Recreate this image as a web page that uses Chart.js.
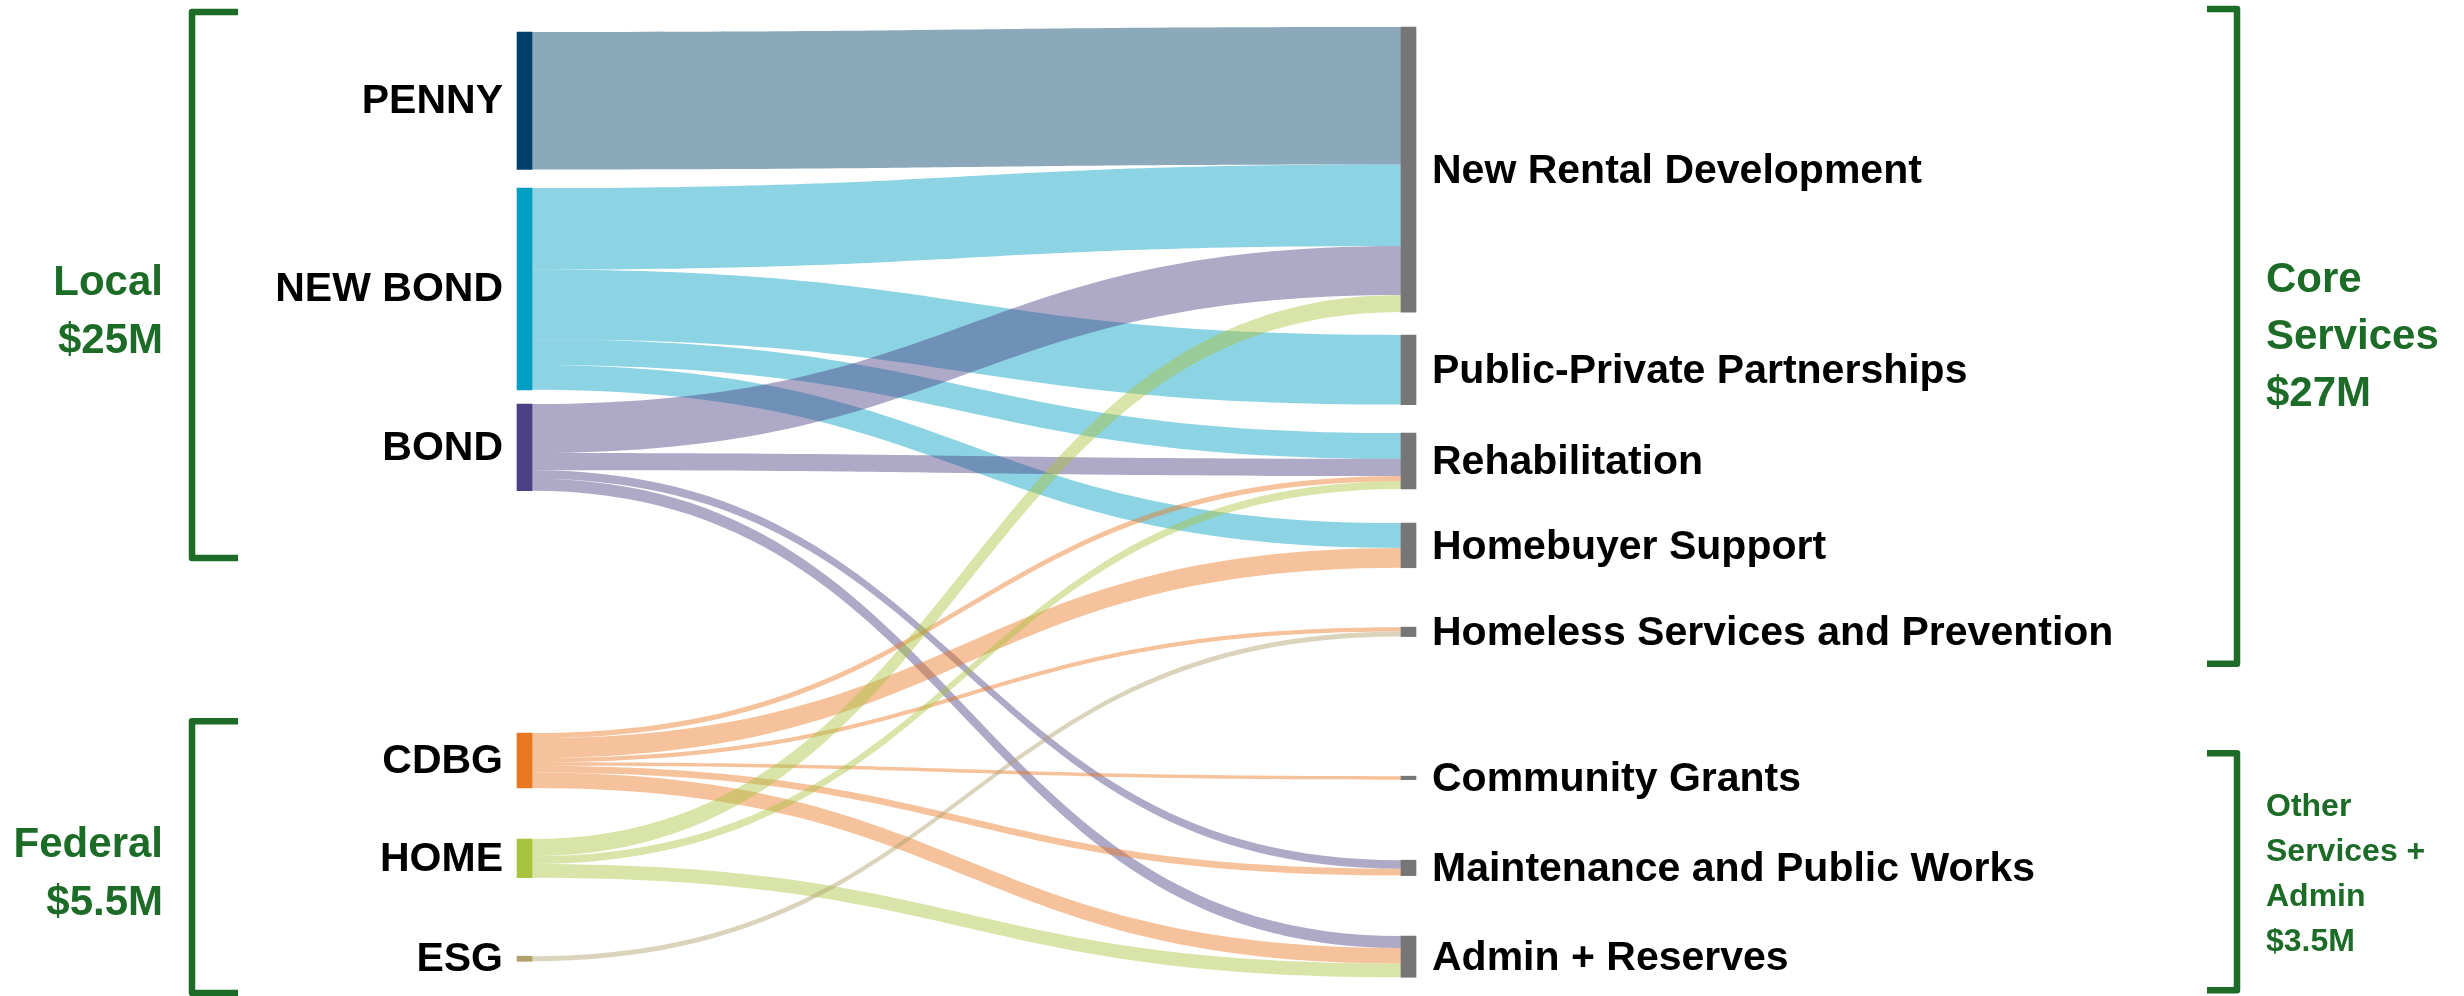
<!DOCTYPE html>
<html>
<head>
<meta charset="utf-8">
<script src="https://cdn.jsdelivr.net/npm/chart.js@4.4.1/dist/chart.umd.min.js"></script>
<style>
  html, body { margin: 0; padding: 0; background: #ffffff; }
  #wrap { width: 2464px; height: 996px; position: relative; }
</style>
</head>
<body>
<div id="wrap"><canvas id="c" width="2464" height="996"></canvas></div>
<script>
// ---------------- DATA ($ millions) ----------------
const sourceNames = ['PENNY', 'NEW BOND', 'BOND', 'CDBG', 'HOME', 'ESG'];
const targetNames = [
  'New Rental Development',
  'Public-Private Partnerships',
  'Rehabilitation',
  'Homebuyer Support',
  'Homeless Services and Prevention',
  'Community Grants',
  'Maintenance and Public Works',
  'Admin + Reserves'
];
// flows: source index -> target index, value in $M
const flowFrom  = [0,   1,    1,    1,   1,    2,    2,   2,   2,   3,   3,    3,    3,   3,   3,   4,   4,    4,   5];
const flowTo    = [0,   0,    1,    2,   3,    0,    2,   6,   7,   2,   3,    4,    5,   6,   7,   0,   2,    7,   4];
const flowValue = [8.0, 4.75, 4.05, 1.5, 1.45, 2.85, 1.0, 0.5, 0.7, 0.3, 1.15, 0.25, 0.2, 0.4, 0.9, 1.0, 0.45, 0.8, 0.3];

// group annotations
const leftGroupText  = [['Local', '$25M'], ['Federal', '$5.5M']];
const rightGroupText = [['Core', 'Services', '$27M'], ['Other', 'Services +', 'Admin', '$3.5M']];

// ---------------- LAYOUT / STYLE ----------------
const layout = {
  yMax: 58,                                   // value units ($M) spanning the canvas height
  srcTop: [1.864, 10.95, 23.53, 42.69, 48.86, 55.68],   // node tops in value units
  tgtTop: [1.573, 19.51, 25.22, 30.46, 36.52, 45.20, 50.09, 54.51],
  colLeftPx: 524.5, colRightPx: 1408.5, nodeW: 15,
  leftBrackets:  [{ y0: 0.70, y1: 32.50, mid: 18.17 }, { y0: 42.0, y1: 57.83, mid: 50.90 }],
  rightBrackets: [{ y0: 0.52, y1: 38.65, mid: 19.62 }, { y0: 43.86, y1: 57.66, mid: 50.95 }]
};
const srcColors = ['#00406a', '#009ec2', '#4b4083', '#e87722', '#a8c43e', '#b0a06a'];
const tgtColor = '#767676';
const green = '#1c6b27';
const flowAlpha = 0.45;

function hexToRgba(hex, a) {
  const n = parseInt(hex.slice(1), 16);
  return `rgba(${(n >> 16) & 255},${(n >> 8) & 255},${n & 255},${a})`;
}

// totals
const srcTotal = sourceNames.map((_, i) => flowValue.reduce((s, v, k) => s + (flowFrom[k] === i ? v : 0), 0));
const tgtTotal = targetNames.map((_, j) => flowValue.reduce((s, v, k) => s + (flowTo[k] === j ? v : 0), 0));

// offsets of every flow within its source and target node
const idx = flowValue.map((_, k) => k);
const flowSrcStart = new Array(flowValue.length);
const flowTgtStart = new Array(flowValue.length);
(function () {
  const so = layout.srcTop.slice();
  idx.slice().sort((a, b) => flowFrom[a] - flowFrom[b] || flowTo[a] - flowTo[b]).forEach(k => {
    flowSrcStart[k] = so[flowFrom[k]]; so[flowFrom[k]] += flowValue[k];
  });
  const to = layout.tgtTop.slice();
  idx.slice().sort((a, b) => flowTo[a] - flowTo[b] || flowFrom[a] - flowFrom[b]).forEach(k => {
    flowTgtStart[k] = to[flowTo[k]]; to[flowTo[k]] += flowValue[k];
  });
})();

const W = 2464;
const span = (layout.colRightPx - layout.colLeftPx);
const xMin = -layout.colLeftPx / span;
const xMax = xMin + W / span;

const sankeyPlugin = {
  id: 'sankeyFlows',
  beforeDatasetsDraw(chart) {
    const ctx = chart.ctx, xs = chart.scales.x, ys = chart.scales.y;
    const x0 = xs.getPixelForValue(0) + layout.nodeW / 2;
    const x1 = xs.getPixelForValue(1) - layout.nodeW / 2;
    const xm = (x0 + x1) / 2;
    ctx.save();
    for (let k = 0; k < flowValue.length; k++) {
      const sA = ys.getPixelForValue(flowSrcStart[k]);
      const sB = ys.getPixelForValue(flowSrcStart[k] + flowValue[k]);
      const tA = ys.getPixelForValue(flowTgtStart[k]);
      const tB = ys.getPixelForValue(flowTgtStart[k] + flowValue[k]);
      ctx.beginPath();
      ctx.moveTo(x0, sA);
      ctx.bezierCurveTo(xm, sA, xm, tA, x1, tA);
      ctx.lineTo(x1, tB);
      ctx.bezierCurveTo(xm, tB, xm, sB, x0, sB);
      ctx.closePath();
      ctx.fillStyle = hexToRgba(srcColors[flowFrom[k]], flowAlpha);
      ctx.fill();
    }
    ctx.restore();
  },
  afterDraw(chart) {
    const ctx = chart.ctx, xs = chart.scales.x, ys = chart.scales.y;
    ctx.save();
    // node labels
    ctx.fillStyle = '#000000';
    ctx.textBaseline = 'middle';
    ctx.font = 'bold 41px "Liberation Sans", Arial, sans-serif';
    ctx.textAlign = 'right';
    const lx = xs.getPixelForValue(0) - layout.nodeW / 2 - 14;
    sourceNames.forEach((n, i) => {
      ctx.fillText(n, lx, ys.getPixelForValue(layout.srcTop[i] + srcTotal[i] / 2) + 1);
    });
    ctx.font = 'bold 41px "Liberation Sans", Arial, sans-serif';
    ctx.textAlign = 'left';
    const rx = xs.getPixelForValue(1) + layout.nodeW / 2 + 16;
    targetNames.forEach((n, j) => {
      ctx.fillText(n, rx, ys.getPixelForValue(layout.tgtTop[j] + tgtTotal[j] / 2) + 2);
    });

    // brackets
    ctx.strokeStyle = green;
    ctx.lineWidth = 6.5;
    ctx.lineJoin = 'round';
    ctx.lineCap = 'butt';
    layout.leftBrackets.forEach(b => {
      const y0 = ys.getPixelForValue(b.y0), y1 = ys.getPixelForValue(b.y1);
      ctx.beginPath();
      ctx.moveTo(238, y0); ctx.lineTo(192, y0); ctx.lineTo(192, y1); ctx.lineTo(238, y1);
      ctx.stroke();
    });
    layout.rightBrackets.forEach(b => {
      const y0 = ys.getPixelForValue(b.y0), y1 = ys.getPixelForValue(b.y1);
      ctx.beginPath();
      ctx.moveTo(2207, y0); ctx.lineTo(2237, y0); ctx.lineTo(2237, y1); ctx.lineTo(2207, y1);
      ctx.stroke();
    });

    // group texts
    ctx.fillStyle = green;
    ctx.font = 'bold 42px "Liberation Sans", Arial, sans-serif';
    ctx.textAlign = 'right';
    leftGroupText.forEach((lines, g) => {
      const c = ys.getPixelForValue(layout.leftBrackets[g].mid);
      const lh = 58;
      lines.forEach((t, i) => ctx.fillText(t, 163, c + (i - (lines.length - 1) / 2) * lh));
    });
    ctx.textAlign = 'left';
    rightGroupText.forEach((lines, g) => {
      const small = g === 1;
      ctx.font = small ? 'bold 32px "Liberation Sans", Arial, sans-serif' : 'bold 42px "Liberation Sans", Arial, sans-serif';
      const lh = small ? 45 : 57;
      const c = ys.getPixelForValue(layout.rightBrackets[g].mid);
      lines.forEach((t, i) => ctx.fillText(t, 2266, c + (i - (lines.length - 1) / 2) * lh));
    });
    ctx.restore();
  }
};

new Chart(document.getElementById('c'), {
  type: 'bar',
  data: {
    datasets: [
      {
        label: 'Funding sources',
        data: sourceNames.map((n, i) => ({ x: 0, y: [layout.srcTop[i], layout.srcTop[i] + srcTotal[i]] })),
        backgroundColor: srcColors,
        barThickness: layout.nodeW,
        grouped: false,
        borderWidth: 0,
        borderSkipped: false
      },
      {
        label: 'Uses',
        data: targetNames.map((n, j) => ({ x: 1, y: [layout.tgtTop[j], layout.tgtTop[j] + tgtTotal[j]] })),
        backgroundColor: tgtColor,
        barThickness: layout.nodeW,
        grouped: false,
        borderWidth: 0,
        borderSkipped: false
      }
    ]
  },
  options: {
    responsive: false,
    animation: false,
    events: [],
    layout: { padding: 0 },
    plugins: { legend: { display: false }, tooltip: { enabled: false }, title: { display: false } },
    scales: {
      x: { type: 'linear', min: xMin, max: xMax, display: false, offset: false, grid: { offset: false } },
      y: { type: 'linear', min: 0, max: layout.yMax, reverse: true, display: false }
    }
  },
  plugins: [sankeyPlugin]
});
</script>
</body>
</html>
